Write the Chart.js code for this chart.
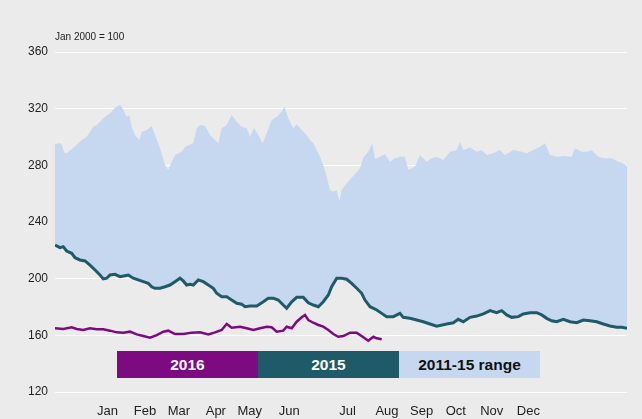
<!DOCTYPE html>
<html>
<head>
<meta charset="utf-8">
<script src="https://cdn.jsdelivr.net/npm/chart.js@4.4.1/dist/chart.umd.min.js"></script>
<style>
  html, body { margin: 0; padding: 0; background: #ebebeb; }
  #wrap { position: relative; width: 642px; height: 419px; background: #ebebeb; font-family: "Liberation Sans", Arial, sans-serif; }
  #note { position: absolute; left: 55px; top: 31px; font-size: 10px; color: #222; }
  #legend { position: absolute; left: 117px; top: 351px; height: 27px; display: flex; }
  #legend div { width: 141px; height: 27px; line-height: 27px; text-align: center; font-weight: bold; font-size: 15.5px; }
</style>
</head>
<body>
<div id="wrap">
  <canvas id="myCanvas"></canvas>
  <div id="note">Jan 2000 = 100</div>
  <div id="legend"></div>
</div>
<script>
// x values are weeks into the year (0 - 52), y values are index, Jan 2000 = 100
let rangeWeeks = [0, 0.45, 0.64, 0.82, 1.06, 1.64, 2.27, 2.88, 3.48, 3.79, 4.39, 5.0, 5.45, 5.91, 6.06, 6.52, 6.75, 6.97, 7.27, 7.66, 7.88, 8.34, 8.79, 9.09, 9.55, 10.0, 10.3, 10.61, 10.91, 11.52, 11.82, 12.57, 12.88, 13.18, 13.64, 14.09, 14.55, 14.85, 15.15, 15.61, 16.06, 16.52, 16.97, 17.43, 17.73, 18.09, 18.48, 18.88, 19.25, 19.7, 20.15, 20.61, 20.85, 21.21, 21.66, 21.97, 22.43, 22.88, 23.18, 23.48, 23.94, 24.09, 24.39, 24.7, 25.0, 25.3, 25.61, 25.85, 26.06, 26.52, 26.97, 27.43, 27.73, 28.03, 28.48, 28.85, 29.09, 29.55, 30.0, 30.45, 30.91, 31.36, 31.82, 32.12, 32.73, 33.18, 33.79, 34.25, 34.7, 35.3, 35.91, 36.52, 36.82, 37.12, 37.73, 38.34, 38.79, 39.25, 39.85, 40.45, 40.91, 41.66, 42.43, 42.88, 43.48, 44.09, 44.55, 45.0, 45.61, 46.21, 46.97, 47.27, 47.88, 48.34, 48.79, 49.39, 50.0, 50.61, 51.21, 51.52, 51.82, 52.0];
let rangeHigh = [294.9, 295.8, 294.4, 289.2, 288.5, 292.2, 296.7, 300.2, 307.3, 308.5, 313.2, 316.7, 320.7, 322.6, 321.4, 314.3, 315.5, 307.3, 301.4, 297.9, 303.7, 304.9, 307.8, 301.4, 292.0, 280.2, 276.7, 282.6, 287.3, 289.6, 293.2, 295.6, 306.1, 308.5, 308.0, 301.4, 297.9, 295.6, 306.1, 308.5, 315.5, 310.8, 307.3, 306.1, 300.2, 306.6, 301.4, 295.6, 302.6, 312.0, 314.3, 317.9, 321.4, 313.2, 306.1, 309.0, 304.9, 301.4, 297.9, 295.6, 288.5, 286.1, 280.2, 272.0, 262.6, 261.4, 262.6, 254.8, 262.6, 267.3, 271.3, 275.3, 277.9, 285.5, 289.6, 295.6, 284.5, 286.1, 287.8, 282.6, 285.0, 286.1, 286.1, 276.7, 279.2, 287.3, 282.6, 285.0, 286.1, 283.8, 289.6, 290.8, 296.7, 290.8, 292.7, 289.6, 290.8, 287.3, 288.5, 290.8, 287.3, 290.8, 289.6, 288.5, 290.8, 293.2, 295.6, 287.3, 286.1, 286.6, 286.1, 292.0, 289.6, 289.6, 290.8, 286.1, 285.0, 285.0, 282.6, 281.9, 280.2, 279.5];

let weeks2015 = [0, 0.45, 0.75, 1.06, 1.52, 1.82, 2.27, 2.73, 3.18, 3.64, 4.09, 4.39, 4.7, 5.0, 5.45, 5.91, 6.36, 6.66, 7.12, 7.57, 8.03, 8.48, 8.79, 9.09, 9.55, 10.0, 10.45, 10.91, 11.36, 11.66, 11.97, 12.27, 12.57, 13.03, 13.48, 13.94, 14.39, 14.7, 15.15, 15.61, 16.06, 16.52, 16.97, 17.27, 17.73, 18.34, 18.94, 19.39, 19.85, 20.3, 20.75, 21.06, 21.52, 21.97, 22.57, 23.03, 23.48, 23.94, 24.39, 24.85, 25.15, 25.61, 26.06, 26.52, 26.97, 27.43, 27.88, 28.18, 28.64, 29.25, 29.7, 30.15, 30.75, 31.36, 31.66, 32.27, 32.88, 33.48, 34.09, 34.7, 35.61, 36.21, 36.66, 37.12, 37.73, 38.34, 38.94, 39.55, 40.15, 40.61, 41.06, 41.52, 42.12, 42.57, 43.18, 43.79, 44.25, 44.7, 45.15, 45.61, 46.21, 46.82, 47.43, 48.03, 48.64, 49.25, 49.85, 50.45, 51.06, 51.52, 52.0];
let values2015 = [223.8, 221.9, 222.6, 219.5, 217.9, 214.8, 213.2, 212.5, 209.6, 206.1, 202.6, 199.8, 200.3, 202.6, 203.1, 201.4, 202.1, 202.6, 200.3, 199.1, 197.9, 196.7, 194.3, 193.2, 193.2, 194.3, 195.5, 197.9, 200.3, 198.4, 195.5, 196.0, 195.5, 199.1, 197.9, 195.5, 193.2, 189.7, 187.3, 187.3, 184.9, 182.6, 182.0, 180.2, 180.7, 180.7, 183.7, 186.1, 186.1, 184.9, 181.4, 179.1, 183.7, 186.8, 186.8, 183.0, 181.4, 180.2, 183.7, 188.5, 194.3, 200.3, 200.3, 199.6, 196.7, 193.2, 189.7, 184.9, 180.2, 177.9, 175.5, 173.2, 173.2, 175.5, 172.7, 172.0, 170.8, 169.6, 168.0, 166.4, 168.0, 168.9, 171.3, 169.6, 172.7, 173.6, 175.1, 177.4, 176.0, 177.4, 174.4, 172.7, 173.2, 175.1, 176.0, 176.0, 174.4, 172.0, 170.3, 169.6, 171.3, 169.6, 168.9, 170.8, 170.3, 169.6, 168.0, 166.6, 165.7, 165.7, 165.0];

let weeks2016 = [0, 0.75, 1.52, 1.97, 2.57, 3.18, 3.79, 4.39, 5.0, 5.61, 6.21, 6.82, 7.43, 8.03, 8.64, 9.25, 9.85, 10.3, 10.91, 11.66, 12.43, 13.18, 13.94, 14.55, 15.15, 15.61, 16.06, 16.82, 17.43, 18.03, 18.64, 19.25, 19.7, 20.15, 20.75, 21.06, 21.52, 21.97, 22.43, 22.73, 23.03, 23.48, 23.94, 24.39, 24.85, 25.3, 25.75, 26.21, 26.82, 27.43, 28.03, 28.48, 28.94, 29.25, 29.7];
let values2016 = [165.0, 164.5, 165.7, 164.5, 163.8, 165.0, 164.3, 164.3, 163.3, 162.1, 161.9, 162.6, 160.7, 159.5, 158.3, 160.2, 162.6, 163.3, 160.9, 160.9, 161.9, 162.1, 160.7, 162.1, 163.8, 168.0, 165.4, 166.1, 165.0, 163.8, 165.0, 166.1, 165.7, 162.6, 163.3, 166.1, 165.0, 169.6, 172.7, 174.4, 170.8, 168.9, 167.3, 166.1, 163.8, 160.9, 159.0, 159.5, 161.9, 161.9, 158.6, 156.2, 159.0, 157.9, 157.2];

let monthLabels = ["Jan", "Feb", "Mar", "Apr", "May", "Jun", "Jul", "Aug", "Sep", "Oct", "Nov", "Dec"];
let monthWeeks = [4.77, 8.18, 11.27, 14.62, 17.71, 21.29, 26.59, 30.18, 33.33, 36.44, 39.7, 43.03];

let yTicks = [120, 160, 200, 240, 280, 320, 360];

let colour2016 = "#7e0a81";
let colour2015 = "#1f5a68";
let colourRange = "#c6d8f0";

function toPoints(xs, ys) {
  let pts = [];
  for (let i = 0; i < xs.length; i++) {
    pts.push({ x: xs[i], y: ys[i] });
  }
  return pts;
}

// legend boxes under the lines
let legendItems = [
  { name: "2016", bg: colour2016, fg: "#ffffff" },
  { name: "2015", bg: colour2015, fg: "#ffffff" },
  { name: "2011-15 range", bg: colourRange, fg: "#111111" }
];
let legend = document.getElementById("legend");
for (let i = 0; i < legendItems.length; i++) {
  let d = document.createElement("div");
  d.textContent = legendItems[i].name;
  d.style.background = legendItems[i].bg;
  d.style.color = legendItems[i].fg;
  legend.appendChild(d);
}

const data = {
  datasets: [
    {
      label: "2016",
      data: toPoints(weeks2016, values2016),
      borderColor: colour2016,
      borderWidth: 2.5,
      pointRadius: 0,
      fill: false,
      order: 1
    },
    {
      label: "2015",
      data: toPoints(weeks2015, values2015),
      borderColor: colour2015,
      borderWidth: 3,
      pointRadius: 0,
      fill: false,
      order: 2
    },
    {
      label: "2011-15 range",
      data: toPoints(rangeWeeks, rangeHigh),
      borderColor: colourRange,
      borderWidth: 0,
      backgroundColor: colourRange,
      pointRadius: 0,
      fill: 1,
      order: 3
    }
  ]
};

const config = {
  type: "line",
  data: data,
  options: {
    responsive: true,
    maintainAspectRatio: false,
    animation: false,
    layout: { padding: { left: 0, right: 15, top: 52, bottom: 0 } },
    plugins: {
      legend: { display: false },
      tooltip: { enabled: false }
    },
    scales: {
      x: {
        type: "linear",
        min: 0,
        max: 52,
        grid: { display: false },
        border: { display: false },
        afterBuildTicks: function (scale) {
          scale.ticks = monthWeeks.map(function (w) { return { value: w }; });
        },
        afterFit: function (scale) { scale.height = 27; },
        ticks: {
          autoSkip: false,
          maxRotation: 0,
          padding: 4,
          color: "#222",
          font: { family: "'Liberation Sans', Arial, sans-serif", size: 13 },
          callback: function (value, index) { return monthLabels[index]; }
        }
      },
      y: {
        min: 120,
        max: 360,
        afterBuildTicks: function (scale) {
          scale.ticks = yTicks.map(function (v) { return { value: v }; });
        },
        afterFit: function (scale) { scale.width = 55; },
        grid: { color: "#ffffff", lineWidth: 1, drawTicks: false },
        border: { display: false },
        ticks: {
          padding: 7,
          color: "#222",
          font: { family: "'Liberation Sans', Arial, sans-serif", size: 12 }
        }
      }
    }
  }
};

const canvas = document.getElementById("myCanvas");
new Chart(canvas, config);
</script>
</body>
</html>
